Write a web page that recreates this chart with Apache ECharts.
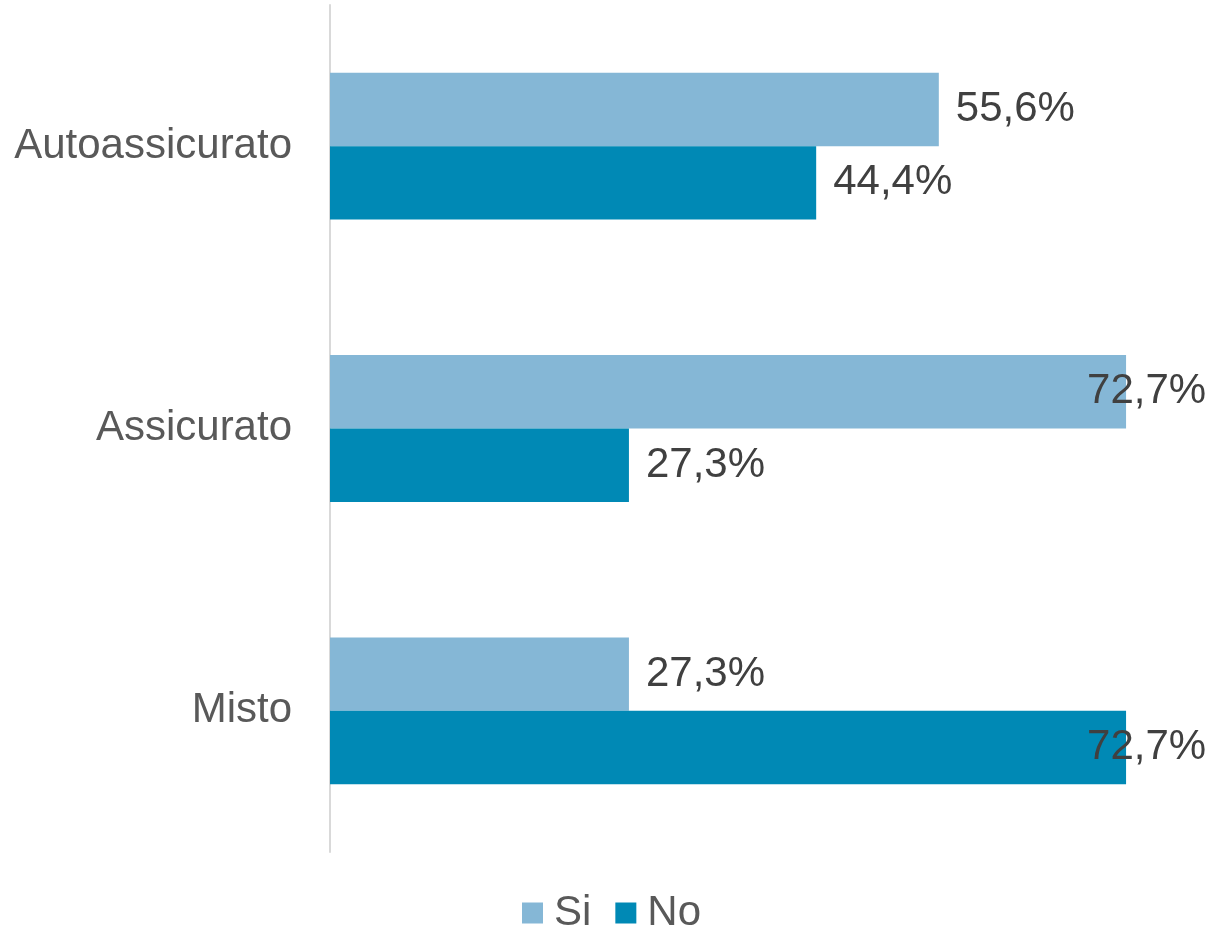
<!DOCTYPE html>
<html>
<head>
<meta charset="utf-8">
<title>Si / No</title>
<script src="https://cdn.jsdelivr.net/npm/echarts@6/dist/echarts.min.js"></script>
<style>
  html, body { margin: 0; padding: 0; background: #ffffff; }
  #chart { width: 1212px; height: 927px; }
</style>
</head>
<body>
<div id="chart"></div>
<script>
const categories = ['Autoassicurato', 'Assicurato', 'Misto'];
const siValues = [55.6, 72.7, 27.3];
const noValues = [44.4, 27.3, 72.7];
const seriesNames = ['Si', 'No'];

const FONT = '"Liberation Sans", Arial, sans-serif';
const maxValue = Math.max(...siValues, ...noValues);

const fmt = v => v.toFixed(1).replace('.', ',') + '%';

// The longest bars get their label pulled back over the bar end
function toItems(values) {
  return values.map(v => v >= maxValue
    ? { value: v, label: { position: 'right', distance: 0, offset: [-39, 0] } }
    : { value: v });
}

const barLabel = {
  show: true,
  position: 'right',
  distance: 17,
  fontFamily: FONT,
  fontSize: 42,
  color: '#404040',
  formatter: p => fmt(p.value)
};

const chart = echarts.init(document.getElementById('chart'), null, { renderer: 'canvas' });
chart.setOption({
  animation: false,
  grid: { left: 330, right: 6, top: 5, bottom: 75, containLabel: false },
  legend: {
    data: seriesNames,
    bottom: -12,
    left: 517,
    icon: 'rect',
    itemWidth: 21,
    itemHeight: 21,
    itemGap: 24,
    textStyle: { fontFamily: FONT, fontSize: 42, color: '#595959', padding: [0, 0, 0, 6] }
  },
  xAxis: {
    type: 'value',
    min: 0,
    max: 80,
    show: false,
    splitLine: { show: false }
  },
  yAxis: {
    type: 'category',
    data: categories,
    inverse: true,
    axisLine: { show: true, lineStyle: { color: '#D9D9D9', width: 2 } },
    axisTick: { show: false },
    axisLabel: { fontFamily: FONT, fontSize: 42, color: '#595959', margin: 38 }
  },
  series: [
    {
      name: seriesNames[0],
      type: 'bar',
      data: toItems(siValues),
      barGap: '0%',
      barCategoryGap: '48%',
      itemStyle: { color: '#85B7D6' },
      label: barLabel
    },
    {
      name: seriesNames[1],
      type: 'bar',
      data: toItems(noValues),
      barGap: '0%',
      barCategoryGap: '48%',
      itemStyle: { color: '#0089B5' },
      label: barLabel
    }
  ]
});
</script>
</body>
</html>
